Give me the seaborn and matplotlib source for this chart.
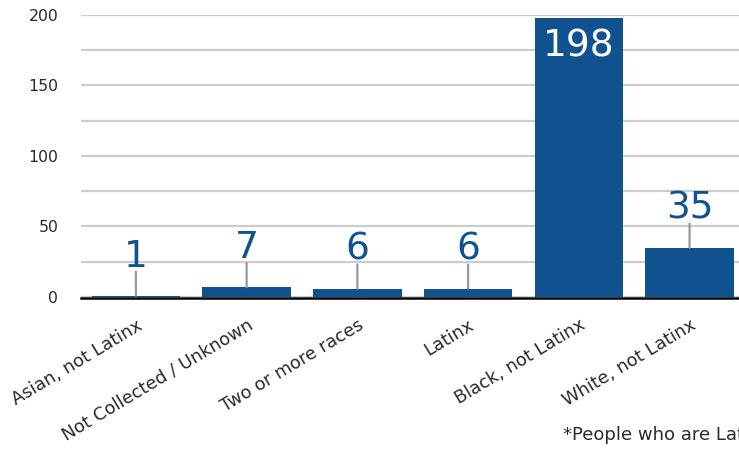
import matplotlib
matplotlib.use("Agg")
import matplotlib.pyplot as plt
import seaborn as sns
import pandas as pd

categories = ["Asian, not Latinx", "Not Collected / Unknown", "Two or more races",
              "Latinx", "Black, not Latinx", "White, not Latinx"]
values = [1, 7, 6, 6, 198, 35]
yticks = [0, 50, 100, 150, 200]
footnote = "*People who are Latinx may be of any race."

BLUE = "#10528F"
TXT = "#2a2a2a"

sns.set_theme(style="white")
plt.rcParams["font.family"] = ["DejaVu Sans"]

df = pd.DataFrame({"category": categories, "value": values})

fig = plt.figure(figsize=(7.39, 4.5), dpi=100)
ax = fig.add_axes([0.109, 0.34, 0.899, 0.6267])

sns.barplot(data=df, x="category", y="value", color=BLUE, saturation=1,
            width=0.8, ax=ax, zorder=3, linewidth=0)

ax.set_ylim(0, 200)
ax.set_xlim(-0.5, len(categories) - 0.5)
ax.set_yticks(range(0, 201, 25))
ax.set_yticklabels([str(t) if t in yticks else "" for t in range(0, 201, 25)])
ax.grid(axis="y", color="#cccccc", linewidth=1.6, zorder=0)
ax.set_axisbelow(True)
for s in ["left", "right", "top"]:
    ax.spines[s].set_visible(False)
ax.spines["bottom"].set_color("black")
ax.spines["bottom"].set_linewidth(1.8)
ax.spines["bottom"].set_position(("outward", 0.8))
ax.spines["bottom"].set_zorder(5)
ax.tick_params(axis="y", length=0, pad=16, labelsize=11.3, labelcolor=TXT)
ax.tick_params(axis="x", length=0, pad=13, labelsize=12.8, labelcolor=TXT)
plt.setp(ax.get_xticklabels(), rotation=31, ha="right", rotation_mode="anchor")
ax.set_xlabel("")
ax.set_ylabel("")

for i, v in enumerate(values):
    if v > 150:
        ax.annotate(str(v), xy=(i, v), xytext=(0, -11), textcoords="offset pixels",
                    ha="center", va="top", color="white", fontsize=27, zorder=6)
    else:
        ax.annotate("", xy=(i, v), xytext=(0, 24), textcoords="offset pixels",
                    arrowprops=dict(arrowstyle="-", color="#999999", lw=1.6,
                                    shrinkA=0, shrinkB=0), zorder=4)
        ax.annotate(str(v), xy=(i, v), xytext=(0, 29), textcoords="offset pixels",
                    ha="center", va="baseline", color=BLUE, fontsize=27, zorder=6)

fig.text(563 / 739, 1 - 440 / 450, footnote, fontsize=13, color=TXT,
         ha="left", va="baseline")

fig.savefig("out.png", dpi=100)
